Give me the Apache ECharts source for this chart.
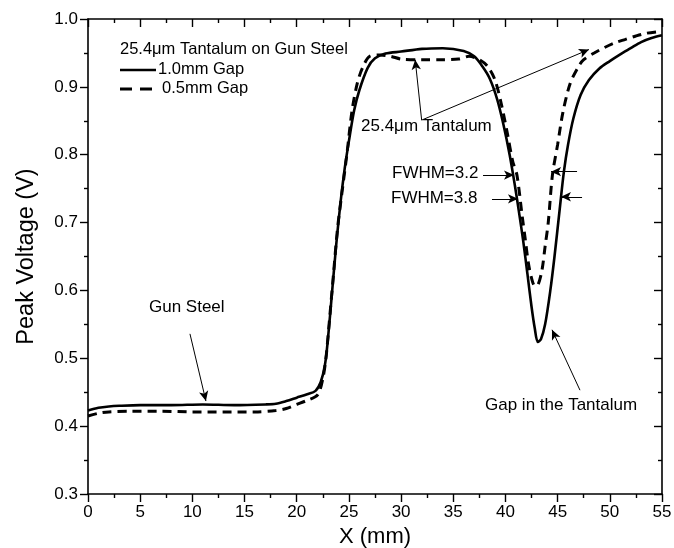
<!DOCTYPE html>
<html>
<head>
<meta charset="utf-8">
<script src="https://cdn.jsdelivr.net/npm/echarts@6/dist/echarts.min.js"></script>
<style>html,body{margin:0;padding:0;background:#fff;}#c{width:674px;height:548px;}</style>
</head>
<body>
<div id="c"></div>
<script>
// ---- data ----
const xSolid = [0,1,2,3,5,8,11,14,17,18,19,20,21,21.8,22.3,22.7,23.0,23.4,23.8,24.2,24.6,25.0,25.5,26.0,26.8,27.5,28.5,30,32,34,36,37,37.8,38.5,39.2,39.8,40.4,40.9,41.3,41.7,42.1,42.5,42.8,43.1,43.4,43.8,44.3,44.7,45.2,45.6,46.0,46.5,47.2,48.0,49.0,50.0,51.0,52.0,53.0,54.0,55.0];
const ySolid = [0.423,0.427,0.429,0.430,0.431,0.431,0.432,0.431,0.432,0.433,0.437,0.442,0.447,0.452,0.465,0.49,0.53,0.60,0.67,0.73,0.78,0.82,0.865,0.895,0.928,0.942,0.949,0.952,0.956,0.957,0.953,0.945,0.93,0.912,0.882,0.845,0.80,0.755,0.715,0.673,0.625,0.576,0.545,0.524,0.528,0.55,0.60,0.65,0.72,0.775,0.815,0.853,0.888,0.91,0.927,0.938,0.948,0.957,0.966,0.972,0.976];
const xDashed = [0,1,2,4,7,10,13,16,18,19,20,21,22,22.5,22.8,23.1,23.5,23.9,24.3,24.8,25.3,25.8,26.3,27.0,28,29,30,32,34,35.5,36.5,37.5,38.3,39.0,39.6,40.2,40.7,41.1,41.6,41.9,42.2,42.5,42.8,43.1,43.5,43.8,44.1,44.5,45.0,45.5,46.2,47.0,47.5,48.5,49.5,50.5,51.5,52.5,53.5,55];
const yDashed = [0.415,0.419,0.421,0.422,0.422,0.421,0.421,0.421,0.423,0.426,0.432,0.438,0.446,0.47,0.50,0.55,0.62,0.69,0.74,0.80,0.865,0.905,0.928,0.945,0.947,0.945,0.941,0.94,0.94,0.941,0.945,0.94,0.93,0.91,0.875,0.83,0.79,0.77,0.71,0.675,0.64,0.618,0.607,0.608,0.63,0.665,0.70,0.77,0.815,0.862,0.905,0.93,0.94,0.95,0.958,0.965,0.97,0.975,0.979,0.982];
const seriesNames = ['1.0mm Gap','0.5mm Gap'];
const xTicks = {min:0, max:55, interval:5};
const yTicks = {min:0.3, max:1.0, interval:0.1};
// annotation arrows (data coordinates): [from, to]
const arrows = [
  [[9.77,0.536],[11.3,0.437]],
  [[31.97,0.851],[31.35,0.94]],
  [[31.97,0.851],[48.0,0.955]],
  [[47.14,0.453],[44.46,0.542]],
  [[37.85,0.770],[40.82,0.770]],
  [[46.86,0.775],[44.37,0.775]],
  [[38.71,0.735],[41.2,0.735]],
  [[47.34,0.738],[45.32,0.738]]
];

const zip = (a,b) => a.map((v,i)=>[v,b[i]]);
const FONT = '"Liberation Sans", Arial, sans-serif';
const AF = 17; // annotation font size
const chart = echarts.init(document.getElementById('c'), null, {renderer:'canvas'});

const axisCommon = {
  type:'value', splitLine:{show:false},
  axisLine:{show:true, onZero:false, lineStyle:{color:'#000', width:1.6}},
  minorTick:{show:true, splitNumber:2, length:4, lineStyle:{color:'#000', width:1.4}},
  axisTick:{show:true, length:8, lineStyle:{color:'#000', width:1.4}}
};

chart.setOption({
  animation:false,
  backgroundColor:'#fff',
  grid:{left:88, right:12, top:19, bottom:54, containLabel:false, outerBoundsMode:'none'},
  xAxis:[
    Object.assign({}, axisCommon, xTicks, {position:'bottom',
      axisTick:Object.assign({}, axisCommon.axisTick, {inside:false}),
      axisLabel:{color:'#000', fontSize:17, fontFamily:FONT, margin:10},
      name:'X (mm)', nameLocation:'middle', nameGap:30,
      nameTextStyle:{color:'#000', fontSize:22, fontFamily:FONT}}),
    Object.assign({}, axisCommon, xTicks, {position:'top',
      axisTick:Object.assign({}, axisCommon.axisTick, {inside:true}),
      minorTick:Object.assign({}, axisCommon.minorTick),
      axisLabel:{show:false}})
  ],
  yAxis:[
    Object.assign({}, axisCommon, yTicks, {position:'left',
      axisTick:Object.assign({}, axisCommon.axisTick, {inside:false}),
      axisLabel:{color:'#000', fontSize:17, fontFamily:FONT, margin:10, formatter:v=>v.toFixed(1)},
      name:'Peak Voltage (V)', nameLocation:'middle', nameGap:49,
      nameTextStyle:{color:'#000', fontSize:23.5, fontFamily:FONT}}),
    Object.assign({}, axisCommon, yTicks, {position:'right',
      axisTick:Object.assign({}, axisCommon.axisTick, {inside:true}),
      axisLabel:{show:false}})
  ],
  series:[
    {name:seriesNames[0], type:'line', xAxisIndex:0, yAxisIndex:0, showSymbol:false, symbol:'none', smooth:0.3,
     data:zip(xSolid,ySolid), lineStyle:{color:'#000', width:2.6}, z:3,
     markLine:{silent:true, symbol:['none','arrow'], symbolSize:[7,10], label:{show:false},
       lineStyle:{color:'#000', width:1, type:'solid'}, animation:false,
       data:arrows.map(a=>[{coord:a[0]},{coord:a[1]}])}},
    {name:seriesNames[1], type:'line', xAxisIndex:0, yAxisIndex:0, showSymbol:false, symbol:'none', smooth:0.3,
     data:zip(xDashed,yDashed), lineStyle:{color:'#000', width:3, type:[9,6]}, z:2}
  ],
  graphic:[
    {type:'text', left:120, top:41, style:{text:'25.4\u03bcm Tantalum on Gun Steel', fontSize:16.5, fontFamily:FONT, fill:'#000'}},
    {type:'line', shape:{x1:120,y1:70,x2:156,y2:70}, style:{stroke:'#000', lineWidth:2.6}},
    {type:'text', left:158, top:61, style:{text:seriesNames[0], fontSize:16.5, fontFamily:FONT, fill:'#000'}},
    {type:'line', shape:{x1:120,y1:89,x2:152,y2:89}, style:{stroke:'#000', lineWidth:3, lineDash:[12,8]}},
    {type:'text', left:162, top:80, style:{text:seriesNames[1], fontSize:16.5, fontFamily:FONT, fill:'#000'}},
    {type:'text', left:149, top:299, style:{text:'Gun Steel', fontSize:AF, fontFamily:FONT, fill:'#000'}},
    {type:'text', left:361, top:118, style:{text:'25.4\u03bcm Tantalum', fontSize:AF, fontFamily:FONT, fill:'#000'}},
    {type:'text', left:392, top:165, style:{text:'FWHM=3.2', fontSize:AF, fontFamily:FONT, fill:'#000'}},
    {type:'text', left:391, top:190, style:{text:'FWHM=3.8', fontSize:AF, fontFamily:FONT, fill:'#000'}},
    {type:'text', left:485, top:397, style:{text:'Gap in the Tantalum', fontSize:AF, fontFamily:FONT, fill:'#000'}}
  ]
});
</script>
</body>
</html>
